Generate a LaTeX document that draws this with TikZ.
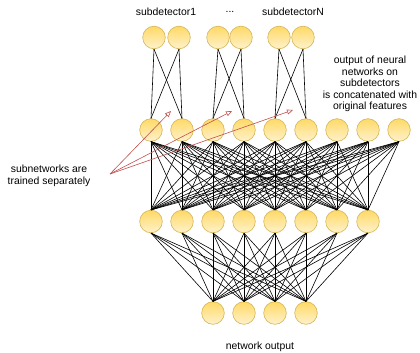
\documentclass[tikz,border=0pt]{standalone}
\usepackage{fontspec}
\setmainfont{Liberation Sans}
\usetikzlibrary{arrows.meta}
\definecolor{nstroke}{HTML}{D6B656}
\definecolor{ntop}{HTML}{FFD966}
\definecolor{nbot}{HTML}{FFF2CC}
\definecolor{redline}{HTML}{C0504D}
\begin{document}
\begin{tikzpicture}[x=1pt,y=-1pt,
  neuron/.style={circle, draw=nstroke, line width=0.6pt, top color=ntop, bottom color=nbot, minimum size=22.6pt, inner sep=0pt},
  link/.style={black, line width=0.6pt},
  redarrow/.style={draw=redline, line width=0.6pt, -{Triangle[open, length=6pt, width=5pt]}},
  lbl/.style={font=\fontsize{10.4}{11.6}\selectfont, align=center, inner sep=0pt}]
\useasboundingbox (0,0) rectangle (420,353);
% top layer
\foreach \x [count=\i] in {154,179,218,241,279,303}
  \node[neuron] (t\i) at (\x,37.5) {};
% layer 2
\foreach \i in {1,...,9}
  \node[neuron] (m\i) at ({151+31*(\i-1)},130) {};
% layer 3
\foreach \i in {1,...,8}
  \node[neuron] (h\i) at ({151+31*(\i-1)},221.5) {};
% output
\foreach \i in {1,...,4}
  \node[neuron] (o\i) at ({213+31*(\i-1)},313) {};
% top sub-network edges
\foreach \a/\b in {1/1,1/2,2/1,2/2,3/3,3/4,4/3,4/4,5/5,5/6,6/5,6/6}
  \draw[link] (t\a.south) -- (m\b.north);
% layer 2 -> layer 3
\foreach \a in {1,...,9}
  \foreach \b in {1,...,8}
    \draw[link] (m\a.south) -- (h\b.north);
% layer 3 -> output
\foreach \a in {1,...,8}
  \foreach \b in {1,...,4}
    \draw[link] (h\a.south) -- (o\b.north);
% labels
\node[lbl] (l1) at (166,12) {subdetector1};
\node[lbl] (l2) at (230,12) {...};
\node[lbl] (l3) at (293,12) {subdetectorN};
\node[lbl] (lr) at (370,84) {output of neural\\networks on\\subdetectors\\is concatenated with\\original features};
\node[lbl] (ls) at (49,176) {subnetworks are\\trained separately};
\node[lbl] (lo) at (260,347) {network output};
% red arrows
\coordinate (s) at (110,174);
\coordinate (a1) at (171,111);
\coordinate (a2) at (232,111);
\coordinate (a3) at (293,110);
\draw[redarrow] (s) -- (a1);
\draw[redarrow] (s) -- (a2);
\draw[redarrow] (s) -- (a3);
\end{tikzpicture}
\end{document}
